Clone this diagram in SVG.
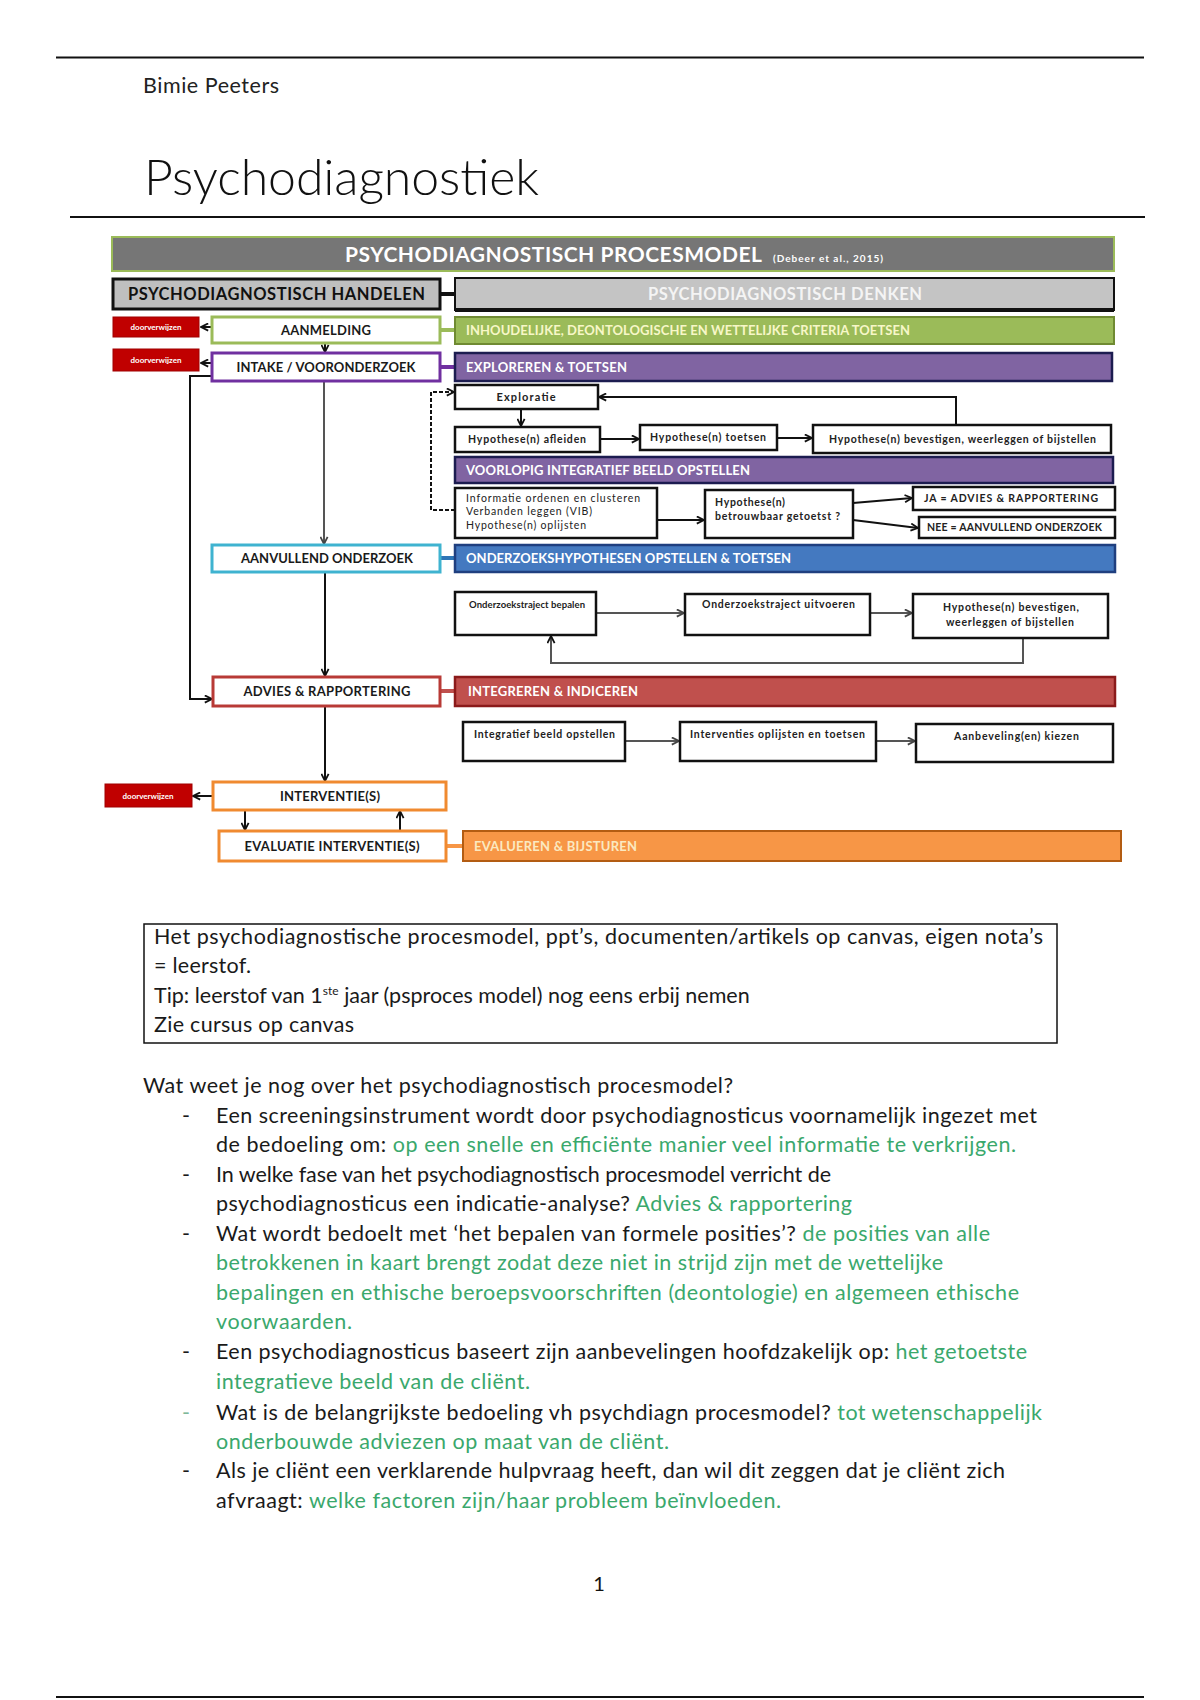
<svg xmlns="http://www.w3.org/2000/svg" width="1200" height="1700" viewBox="0 0 1200 1700">
<style>
  .body{font-family:Lato,"Open Sans","Liberation Sans",sans-serif;font-size:21.5px;fill:#1a1a1a}
  .grn{fill:#3aa86c}
  .lb{font-family:Lato,"Liberation Sans",sans-serif;font-weight:bold;font-size:13px;fill:#1a1a1a}
  .sm{font-family:Lato,"Liberation Sans",sans-serif;font-weight:bold;font-size:10.5px;fill:#222}
  .bar{font-family:Lato,"Liberation Sans",sans-serif;font-weight:bold;font-size:13px;fill:#fff}
  .box{fill:#fff;stroke:#111;stroke-width:2.5}
  .node{fill:#fff;stroke-width:3}
  .red{fill:#c00000;stroke:#a00000;stroke-width:1}
  .rt{font-family:Lato,"Liberation Sans",sans-serif;font-weight:bold;font-size:8px;fill:#fff}
  .ln{fill:none;stroke:#111;stroke-width:2}
  .gl{fill:none;stroke:#555;stroke-width:2}
</style>
<defs>
  <marker id="ah" viewBox="0 0 10 10" refX="9" refY="5" markerWidth="9" markerHeight="9" markerUnits="userSpaceOnUse" orient="auto">
    <path d="M1,1 L9,5 L1,9" fill="none" stroke="#111" stroke-width="2"/>
  </marker>
  <marker id="ahg" viewBox="0 0 10 10" refX="9" refY="5" markerWidth="9" markerHeight="9" markerUnits="userSpaceOnUse" orient="auto">
    <path d="M1,1 L9,5 L1,9" fill="none" stroke="#444" stroke-width="2"/>
  </marker>
</defs>
<rect width="1200" height="1700" fill="#fff"/>

<!-- page header -->
<g id="header">
  <line x1="56" y1="57.5" x2="1144" y2="57.5" stroke="#111" stroke-width="2"/>
  <text x="143" y="93" font-family="Lato,'Liberation Sans',sans-serif" font-size="21.5" fill="#222" textLength="136">Bimie Peeters</text>
  <text x="144" y="195" font-family="Lato,'Liberation Sans',sans-serif" font-weight="300" font-size="50" fill="#111" textLength="395">Psychodiagnostiek</text>
  <line x1="70" y1="217" x2="1145" y2="217" stroke="#111" stroke-width="2"/>
</g>

<!-- connectors -->
<g id="connectors">
  <line class="ln" x1="212" y1="327" x2="201" y2="327" marker-end="url(#ah)"/>
  <line class="ln" x1="212" y1="363" x2="201" y2="363" marker-end="url(#ah)"/>
  <line class="ln" x1="325" y1="343" x2="325" y2="352" marker-end="url(#ah)"/>
  <line class="gl" x1="324" y1="381" x2="324" y2="544" marker-end="url(#ahg)"/>
  <path class="ln" d="M212,376 H190 V699 H212" marker-end="url(#ah)"/>
  <path class="ln" d="M455,510 H431 V392 H454" stroke-dasharray="4,2" marker-end="url(#ah)"/>
  <line class="ln" x1="521" y1="409" x2="521" y2="426" marker-end="url(#ah)"/>
  <line class="ln" x1="600" y1="439" x2="639" y2="439" marker-end="url(#ah)"/>
  <line class="ln" x1="777" y1="438" x2="812" y2="438" marker-end="url(#ah)"/>
  <path class="ln" d="M956,425 V397 H599" marker-end="url(#ah)"/>
  <line class="ln" x1="657" y1="520" x2="704" y2="520" marker-end="url(#ah)"/>
  <line class="ln" x1="853" y1="503" x2="912" y2="498" marker-end="url(#ah)"/>
  <line class="ln" x1="853" y1="520" x2="918" y2="528" marker-end="url(#ah)"/>
  <line class="ln" x1="325" y1="572" x2="325" y2="676" marker-end="url(#ah)"/>
  <line class="gl" x1="596" y1="613" x2="684" y2="613" marker-end="url(#ahg)"/>
  <line class="gl" x1="870" y1="613" x2="912" y2="613" marker-end="url(#ahg)"/>
  <path class="gl" d="M1023,638 V663 H551 V636" marker-end="url(#ah)"/>
  <line class="gl" x1="625" y1="741" x2="679" y2="741" marker-end="url(#ahg)"/>
  <line class="gl" x1="876" y1="741" x2="915" y2="741" marker-end="url(#ahg)"/>
  <line class="ln" x1="325" y1="706" x2="325" y2="781" marker-end="url(#ah)"/>
  <line class="ln" x1="213" y1="796" x2="193" y2="796" marker-end="url(#ah)"/>
  <line class="ln" x1="245" y1="810" x2="245" y2="830" marker-end="url(#ah)"/>
  <line class="ln" x1="400" y1="831" x2="400" y2="811" marker-end="url(#ah)"/>
  <!-- stubs between left column and right bars -->
  <line x1="440" y1="294" x2="455" y2="294" stroke="#111" stroke-width="4"/>
  <line x1="440" y1="330" x2="455" y2="330" stroke="#9bbb59" stroke-width="4"/>
  <line x1="440" y1="367" x2="455" y2="367" stroke="#7030a0" stroke-width="4"/>
  <line x1="440" y1="558" x2="455" y2="558" stroke="#2e75b6" stroke-width="4"/>
  <line x1="440" y1="691" x2="455" y2="691" stroke="#c0504d" stroke-width="4"/>
  <line x1="446" y1="846" x2="463" y2="846" stroke="#f79646" stroke-width="4"/>
</g>

<!-- title bars -->
<g id="title-bar">
  <rect x="112" y="237" width="1002" height="34" fill="#767676" stroke="#9bbb59" stroke-width="2"/>
  <text x="345" y="262" font-family="Lato,'Liberation Sans',sans-serif" font-weight="bold" font-size="21" fill="#fff" textLength="417">PSYCHODIAGNOSTISCH PROCESMODEL</text>
  <text x="773" y="262" font-family="Lato,'Liberation Sans',sans-serif" font-weight="bold" font-size="10" fill="#fff" textLength="110">(Debeer et al., 2015)</text>
</g>
<g id="handelen">
  <rect x="113" y="279" width="327" height="30" fill="#bfbfbf" stroke="#111" stroke-width="3"/>
  <text x="128" y="300" font-family="Lato,'Liberation Sans',sans-serif" font-weight="bold" font-size="16.5" fill="#111" textLength="297">PSYCHODIAGNOSTISCH HANDELEN</text>
</g>
<g id="denken">
  <rect x="455" y="278" width="659" height="32" fill="#c4c4c4" stroke="#111" stroke-width="2"/>
  <line x1="455" y1="310" x2="1114" y2="310" stroke="#111" stroke-width="4"/>
  <text x="785" y="300" text-anchor="middle" font-family="Lato,'Liberation Sans',sans-serif" font-weight="bold" font-size="16.5" fill="#f4f4f4" textLength="274">PSYCHODIAGNOSTISCH DENKEN</text>
</g>

<!-- left column nodes -->
<g id="doorverwijzen-1"><rect class="red" x="113" y="317" width="86" height="20"/><text class="rt" x="156" y="330" text-anchor="middle">doorverwijzen</text></g>
<g id="doorverwijzen-2"><rect class="red" x="113" y="349" width="86" height="22"/><text class="rt" x="156" y="363" text-anchor="middle">doorverwijzen</text></g>
<g id="doorverwijzen-3"><rect class="red" x="105" y="784" width="87" height="23"/><text class="rt" x="148" y="799" text-anchor="middle">doorverwijzen</text></g>

<g id="aanmelding"><rect class="node" x="212" y="317" width="228" height="26" stroke="#9bbb59"/><text class="lb" x="326" y="335" text-anchor="middle" textLength="90">AANMELDING</text></g>
<g id="intake"><rect class="node" x="212" y="353" width="228" height="28" stroke="#7030a0"/><text class="lb" x="326" y="372" text-anchor="middle" textLength="179">INTAKE / VOORONDERZOEK</text></g>
<g id="aanvullend"><rect class="node" x="212" y="545" width="228" height="27" stroke="#3fb3d0"/><text class="lb" x="327" y="563" text-anchor="middle" textLength="172">AANVULLEND ONDERZOEK</text></g>
<g id="advies"><rect class="node" x="213" y="677" width="227" height="29" stroke="#b83a36"/><text class="lb" x="327" y="696" text-anchor="middle" textLength="167">ADVIES &amp; RAPPORTERING</text></g>
<g id="interventie"><rect class="node" x="213" y="782" width="233" height="28" stroke="#f08a30"/><text class="lb" x="330" y="801" text-anchor="middle" textLength="100">INTERVENTIE(S)</text></g>
<g id="evaluatie"><rect class="node" x="219" y="831" width="227" height="30" stroke="#f08a30"/><text class="lb" x="332" y="851" text-anchor="middle" textLength="175">EVALUATIE INTERVENTIE(S)</text></g>

<!-- right column bars -->
<g id="bar-criteria"><rect x="455" y="317" width="659" height="27" fill="#9bbb59" stroke="#6f8a32" stroke-width="2"/><text class="bar" x="466" y="335" style="fill:#f7f7c8" textLength="444">INHOUDELIJKE, DEONTOLOGISCHE EN WETTELIJKE CRITERIA TOETSEN</text></g>
<g id="bar-exploreren"><rect x="455" y="353" width="657" height="28" fill="#8064a2" stroke="#1c1c50" stroke-width="2.5"/><text class="bar" x="466" y="372" textLength="161">EXPLOREREN &amp; TOETSEN</text></g>
<g id="bar-voorlopig"><rect x="455" y="457" width="658" height="26" fill="#8064a2" stroke="#1c1c50" stroke-width="2.5"/><text class="bar" x="466" y="475" textLength="284">VOORLOPIG INTEGRATIEF BEELD OPSTELLEN</text></g>
<g id="bar-onderzoek"><rect x="455" y="545" width="660" height="27" fill="#4479c0" stroke="#1f3f7f" stroke-width="2.5"/><text class="bar" x="466" y="563" textLength="325">ONDERZOEKSHYPOTHESEN OPSTELLEN &amp; TOETSEN</text></g>
<g id="bar-integreren"><rect x="455" y="677" width="660" height="29" fill="#c0504d" stroke="#8b1a1a" stroke-width="2.5"/><text class="bar" x="468" y="696" textLength="170">INTEGREREN &amp; INDICEREN</text></g>
<g id="bar-evalueren"><rect x="463" y="831" width="658" height="30" fill="#f79646" stroke="#b35c12" stroke-width="2"/><text class="bar" x="474" y="851" style="fill:#fbe9c0" textLength="163">EVALUEREN &amp; BIJSTUREN</text></g>

<!-- right column boxes -->
<g id="exploratie"><rect class="box" x="455" y="385" width="143" height="24"/><text class="sm" x="526" y="401" text-anchor="middle" textLength="59" style="font-size:11px">Exploratie</text></g>
<g id="afleiden"><rect class="box" x="455" y="427" width="145" height="25"/><text class="sm" x="468" y="443" textLength="118">Hypothese(n) afleiden</text></g>
<g id="toetsen"><rect class="box" x="640" y="425" width="137" height="25"/><text class="sm" x="650" y="441" textLength="116">Hypothese(n) toetsen</text></g>
<g id="bevestigen-1"><rect class="box" x="813" y="425" width="298" height="28"/><text class="sm" x="829" y="443" textLength="267">Hypothese(n) bevestigen, weerleggen of bijstellen</text></g>
<g id="informatie"><rect class="box" x="455" y="488" width="202" height="50"/>
  <text class="sm" x="466" y="502" style="font-weight:normal" textLength="174">Informatie ordenen en clusteren</text>
  <text class="sm" x="466" y="515" style="font-weight:normal" textLength="126">Verbanden leggen (VIB)</text>
  <text class="sm" x="466" y="529" style="font-weight:normal" textLength="120">Hypothese(n) oplijsten</text></g>
<g id="betrouwbaar"><rect class="box" x="705" y="490" width="148" height="48"/>
  <text class="sm" x="715" y="506" textLength="70">Hypothese(n)</text>
  <text class="sm" x="715" y="520" textLength="125">betrouwbaar getoetst ?</text></g>
<g id="ja"><rect class="box" x="913" y="487" width="202" height="23"/><text class="sm" x="924" y="502" textLength="174">JA =   ADVIES &amp; RAPPORTERING</text></g>
<g id="nee"><rect class="box" x="919" y="517" width="196" height="21"/><text class="sm" x="927" y="531" textLength="175">NEE = AANVULLEND ONDERZOEK</text></g>
<g id="bepalen"><rect class="box" x="455" y="592" width="141" height="43"/><text class="sm" x="469" y="608" textLength="116" style="font-size:9.5px">Onderzoekstraject bepalen</text></g>
<g id="uitvoeren"><rect class="box" x="685" y="594" width="185" height="41"/><text class="sm" x="702" y="608" textLength="153">Onderzoekstraject uitvoeren</text></g>
<g id="bevestigen-2"><rect class="box" x="913" y="594" width="195" height="44"/>
  <text class="sm" x="1011" y="611" text-anchor="middle" textLength="136">Hypothese(n) bevestigen,</text>
  <text class="sm" x="1010" y="626" text-anchor="middle" textLength="128">weerleggen of bijstellen</text></g>
<g id="integratief"><rect class="box" x="463" y="722" width="162" height="39"/><text class="sm" x="474" y="738" textLength="141">Integratief beeld opstellen</text></g>
<g id="interventies"><rect class="box" x="680" y="722" width="196" height="39"/><text class="sm" x="690" y="738" textLength="175">Interventies oplijsten en toetsen</text></g>
<g id="aanbeveling"><rect class="box" x="916" y="724" width="197" height="38"/><text class="sm" x="954" y="740" textLength="125">Aanbeveling(en) kiezen</text></g>

<!-- note box -->
<g id="note">
  <rect x="144" y="924" width="913" height="119" fill="#fff" stroke="#111" stroke-width="1.5"/>
  <text class="body" x="154" y="944" textLength="889">Het psychodiagnostische procesmodel, ppt’s, documenten/artikels op canvas, eigen nota’s</text>
  <text class="body" x="154" y="973" textLength="97">= leerstof.</text>
  <text class="body" x="154" y="1003">Tip: leerstof van 1<tspan font-size="12" dy="-8">ste</tspan><tspan dy="8"> jaar (psproces model) nog eens erbij nemen</tspan></text>
  <text class="body" x="154" y="1032" textLength="200">Zie cursus op canvas</text>
</g>

<!-- questions -->
<g id="questions">
  <text class="body" x="143" y="1093" textLength="590">Wat weet je nog over het psychodiagnostisch procesmodel?</text>
  <text class="body" x="182" y="1123">-</text>
  <text class="body" x="216" y="1123" textLength="821">Een screeningsinstrument wordt door psychodiagnosticus voornamelijk ingezet met</text>
  <text class="body" x="216" y="1152" textLength="800">de bedoeling om: <tspan class="grn">op een snelle en efficiënte manier veel informatie te verkrijgen.</tspan></text>
  <text class="body" x="182" y="1182">-</text>
  <text class="body" x="216" y="1182" textLength="615">In welke fase van het psychodiagnostisch procesmodel verricht de</text>
  <text class="body" x="216" y="1211" textLength="636">psychodiagnosticus een indicatie-analyse? <tspan class="grn">Advies &amp; rapportering</tspan></text>
  <text class="body" x="182" y="1241">-</text>
  <text class="body" x="216" y="1241" textLength="774">Wat wordt bedoelt met ‘het bepalen van formele posities’? <tspan class="grn">de posities van alle</tspan></text>
  <text class="body grn" x="216" y="1270" textLength="727">betrokkenen in kaart brengt zodat deze niet in strijd zijn met de wettelijke</text>
  <text class="body grn" x="216" y="1300" textLength="803">bepalingen en ethische beroepsvoorschriften (deontologie) en algemeen ethische</text>
  <text class="body grn" x="216" y="1329" textLength="136">voorwaarden.</text>
  <text class="body" x="182" y="1359">-</text>
  <text class="body" x="216" y="1359" textLength="811">Een psychodiagnosticus baseert zijn aanbevelingen hoofdzakelijk op: <tspan class="grn">het getoetste</tspan></text>
  <text class="body grn" x="216" y="1389" textLength="314">integratieve beeld van de cliënt.</text>
  <text class="body" x="182" y="1420" style="fill:#7fb89a">-</text>
  <text class="body" x="216" y="1420" textLength="826">Wat is de belangrijkste bedoeling vh psychdiagn procesmodel? <tspan class="grn">tot wetenschappelijk</tspan></text>
  <text class="body grn" x="216" y="1449" textLength="453">onderbouwde adviezen op maat van de cliënt.</text>
  <text class="body" x="182" y="1478">-</text>
  <text class="body" x="216" y="1478" textLength="789">Als je cliënt een verklarende hulpvraag heeft, dan wil dit zeggen dat je cliënt zich</text>
  <text class="body" x="216" y="1508" textLength="565">afvraagt: <tspan class="grn">welke factoren zijn/haar probleem beïnvloeden.</tspan></text>
</g>

<g id="footer">
  <text x="599" y="1591" text-anchor="middle" font-family="Lato,'Liberation Sans',sans-serif" font-size="20" fill="#111">1</text>
  <line x1="56" y1="1697" x2="1144" y2="1697" stroke="#111" stroke-width="2"/>
</g>
</svg>
